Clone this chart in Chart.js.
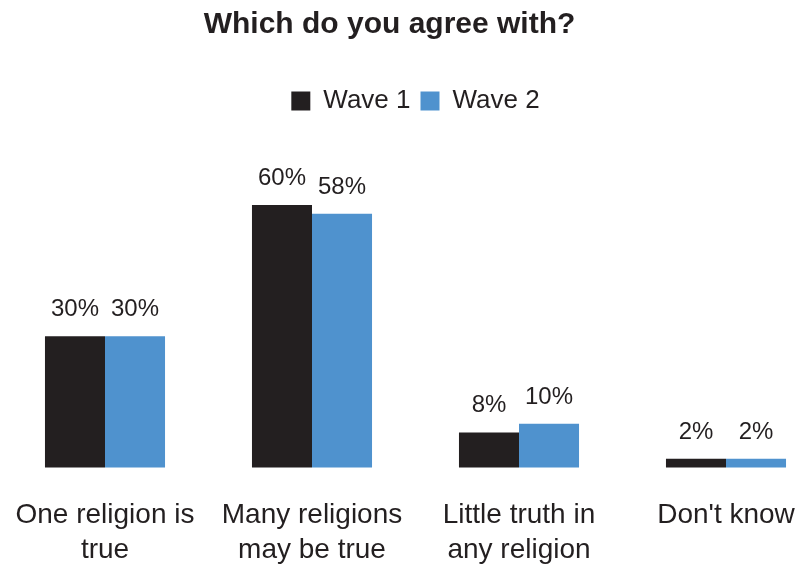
<!DOCTYPE html>
<html>
<head>
<meta charset="utf-8">
<script src="https://cdn.jsdelivr.net/npm/chart.js@4"></script>
<style>
  html, body { margin: 0; padding: 0; background: #fff; }
</style>
</head>
<body>
<canvas id="chart" width="797" height="567"></canvas>
<script>
/* Which do you agree with? — wave 1 vs wave 2 */

const categories = [
  ['One religion is', 'true'],
  ['Many religions', 'may be true'],
  ['Little truth in', 'any religion'],
  "Don't know"
];
const seriesNames = ['Wave 1', 'Wave 2'];
const wave1 = [30, 60, 8, 2];
const wave2 = [30, 58, 10, 2];

const INK = '#231F20';
const COLORS = ['#231F20', '#4F92CE'];
const FONT = '"Liberation Sans", Arial, Helvetica, sans-serif';

// percentage labels over each bar
const valueLabels = {
  id: 'valueLabels',
  afterDatasetsDraw(chart) {
    const ctx = chart.ctx;
    ctx.save();
    ctx.font = '24px ' + FONT;
    ctx.fillStyle = INK;
    ctx.textAlign = 'center';
    ctx.textBaseline = 'alphabetic';
    chart.data.datasets.forEach((ds, i) => {
      chart.getDatasetMeta(i).data.forEach((bar, j) => {
        ctx.fillText(ds.data[j] + '%', bar.x, bar.y - 20);
      });
    });
    ctx.restore();
  }
};

new Chart(document.getElementById('chart'), {
  type: 'bar',
  data: {
    labels: categories,
    datasets: [wave1, wave2].map((d, i) => ({
      label: seriesNames[i],
      data: d,
      backgroundColor: COLORS[i],
      borderWidth: 0,
      categoryPercentage: 0.58,
      barPercentage: 1.0,
      clip: false
    }))
  },
  options: {
    responsive: false,
    animation: false,
    layout: { padding: { top: 0, left: 0, right: 18, bottom: 0 } },
    plugins: {
      title: {
        display: true,
        text: 'Which do you agree with?',
        color: INK,
        font: { family: FONT, size: 30, weight: 'bold', lineHeight: 1.2 },
        padding: { top: 7, bottom: 35 }
      },
      legend: {
        display: true,
        fullSize: false,
        labels: {
          color: INK,
          font: { family: FONT, size: 26 },
          boxWidth: 19,
          boxHeight: 19,
          padding: 10
        }
      },
      tooltip: { enabled: false }
    },
    scales: {
      x: {
        offset: false,
        grid: { display: false, drawTicks: false },
        border: { display: false },
        ticks: {
          color: INK,
          font: { family: FONT, size: 28, lineHeight: 1.25 },
          padding: 30,
          maxRotation: 0,
          autoSkip: false
        },
        afterFit(scale) {
          scale.paddingLeft = 105;
          scale.paddingRight = 71;
          scale.height = 99.5;
        }
      },
      y: { display: false, min: 0, max: 78.5 }
    }
  },
  plugins: [valueLabels]
});
</script>
</body>
</html>
